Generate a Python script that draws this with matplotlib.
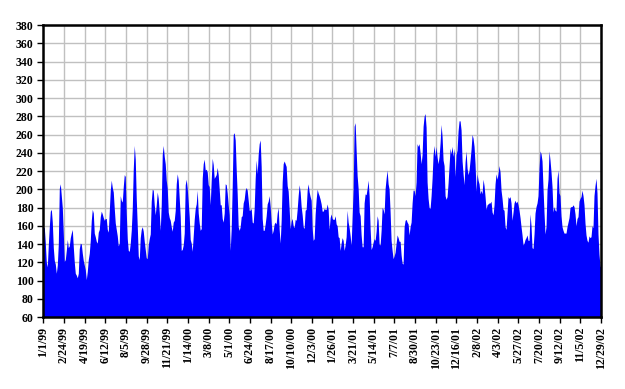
import numpy as np
import pandas as pd
import matplotlib
matplotlib.use('Agg')
import matplotlib.pyplot as plt

# values, roughly one per pixel column, 1/1/99 .. 12/29/02
vals_99 = [158, 158, 141, 120, 115, 139, 159, 176, 178, 164,
           136, 122, 118, 108, 117, 140, 201, 206, 193, 180,
           152, 121, 123, 133, 145, 136, 138, 147, 152, 156,
           137, 120, 108, 106, 103, 108, 135, 141, 140, 130,
           122, 117, 112, 101, 110, 123, 130, 144, 166, 178,
           174, 152, 148, 143, 141, 153, 156, 170, 176, 173,
           169, 166, 168, 168, 156, 153, 176, 199, 210, 202,
           197, 179, 163, 156, 149, 138, 141, 193, 188, 186,
           203, 216, 214, 174, 146, 133, 132]
vals_00 = [141, 155, 179, 222, 248, 233, 190, 160, 127, 123,
           147, 156, 159, 154, 143, 134, 125, 124, 139, 146,
           151, 187, 200, 199, 183, 172, 183, 197, 190, 175,
           155, 183, 238, 248, 236, 228, 210, 201, 175, 169,
           166, 159, 154, 164, 166, 177, 206, 217, 210, 190,
           170, 133, 134, 139, 152, 205, 211, 201, 186, 170,
           145, 141, 132, 149, 167, 179, 184, 199, 174, 163,
           155, 157, 212, 228, 233, 221, 222, 219, 205, 203,
           183, 210, 234, 227, 212, 214, 216, 224, 216, 200,
           183, 183, 168, 164, 174, 206, 205, 196, 183, 172,
           133, 157, 203, 260, 262, 254, 222, 195, 159, 155,
           159, 170]
vals_01a = [171, 185, 189, 199, 202, 199, 188, 177, 177, 179,
            164, 163, 179, 212, 232, 217, 238, 250, 254, 225,
            168, 155, 155, 162, 171, 184, 187, 193, 181, 164,
            151, 155, 162, 164, 162, 174, 180, 156, 141, 166,
            208, 228, 231, 228, 225, 204, 198, 178, 157, 165,
            168, 160, 158, 167, 166, 178, 193, 205, 197, 181,
            172, 159, 157, 177, 178, 199, 206, 197, 192, 188,
            157, 144, 146, 173, 189, 200, 196, 193, 189, 184,
            176, 176, 179, 178, 178, 184, 178, 156, 169, 173,
            168, 167, 167, 171, 162, 160, 148, 147, 133, 141,
            147, 144, 133, 139, 148, 177, 164, 158, 149]
vals_01b = [139, 170, 199, 269, 273, 243, 215, 201, 175, 171,
            150, 137, 137, 185, 195, 194, 201, 210, 193, 157,
            134, 137, 142, 146, 144, 154, 171, 166, 140, 139,
            155, 180, 178, 173, 201, 212, 221, 206, 200, 175,
            144, 133, 124, 127, 131, 141, 150, 147, 143, 143,
            128, 119, 118, 159, 166, 167, 164, 162, 150, 159,
            164, 185, 199, 199, 193, 208, 250, 247, 250, 240,
            228, 238, 269, 280, 283, 268, 208, 190, 180, 179,
            193, 212, 238, 248, 236, 247, 235, 228, 236, 251,
            271, 258, 232, 226, 193, 189, 192, 207, 226, 245,
            239, 247, 236, 245, 214, 238, 243, 264, 275]
vals_02a = [275, 265, 231, 217, 205, 230, 242, 223, 216, 221,
            232, 244, 260, 256, 247, 228, 198, 217, 210, 206,
            195, 199, 195, 211, 204, 192, 178, 183, 184, 185,
            185, 187, 175, 172, 183, 206, 217, 211, 217, 226,
            219, 199, 190, 178, 177, 159, 156, 174, 192, 190,
            192, 185, 166, 175, 185, 188, 185, 187, 183, 177,
            169, 159, 150, 139, 141, 145, 147, 150, 144, 144,
            173, 160, 136, 135, 151, 174, 181, 185, 193, 223]
vals_02b = [242, 239, 231, 201, 174, 151, 159, 199, 211, 242,
            232, 219, 203, 175, 181, 177, 176, 212, 221, 196,
            193, 171, 159, 155, 152, 152, 152, 159, 164, 169,
            180, 181, 181, 183, 181, 173, 160, 168, 170, 187,
            190, 192, 199, 193, 183, 163, 150, 144, 142, 149,
            147, 148, 160, 158, 193, 204, 212, 196, 151, 129,
            116, 114]

tick_labels = ['1/1/99', '2/24/99', '4/19/99', '6/12/99', '8/5/99', '9/28/99',
               '11/21/99', '1/14/00', '3/8/00', '5/1/00', '6/24/00', '8/17/00',
               '10/10/00', '12/3/00', '1/26/01', '3/21/01', '5/14/01', '7/7/01',
               '8/30/01', '10/23/01', '12/16/01', '2/8/02', '4/3/02', '5/27/02',
               '7/20/02', '9/12/02', '11/5/02', '12/29/02']

values = np.array(vals_99 + vals_00 + vals_01a + vals_01b + vals_02a + vals_02b)
start = pd.Timestamp('1999-01-01')
end = pd.Timestamp('2002-12-29')
dates = pd.date_range(start, end, periods=len(values))
tick_dates = pd.to_datetime(tick_labels, format='%m/%d/%y')

plt.rcParams['font.family'] = 'Liberation Serif'

fig = plt.figure(figsize=(6.25, 3.89), dpi=100)
ax = fig.add_axes([0.0693, 0.185, 0.8923, 0.7507])

ax.fill_between(dates, 60, values, color='#0000FF', linewidth=0, zorder=2)

ax.set_xlim(start, end)
ax.set_ylim(60, 380)
ax.set_yticks(np.arange(60, 381, 20))
ax.set_xticks(tick_dates)
ax.set_xticklabels(tick_labels, rotation=90)

for lab in ax.get_xticklabels() + ax.get_yticklabels():
    lab.set_fontweight('bold')
    lab.set_fontsize(8.5)

ax.grid(True, color='#C0C0C0', linewidth=1, zorder=0)
ax.set_axisbelow(True)
for s in ax.spines.values():
    s.set_color('black')
    s.set_linewidth(1.8)
    s.set_zorder(3)
ax.tick_params(axis='both', direction='out', length=4, width=1, color='black', pad=3)

fig.savefig('out.png', dpi=100)
